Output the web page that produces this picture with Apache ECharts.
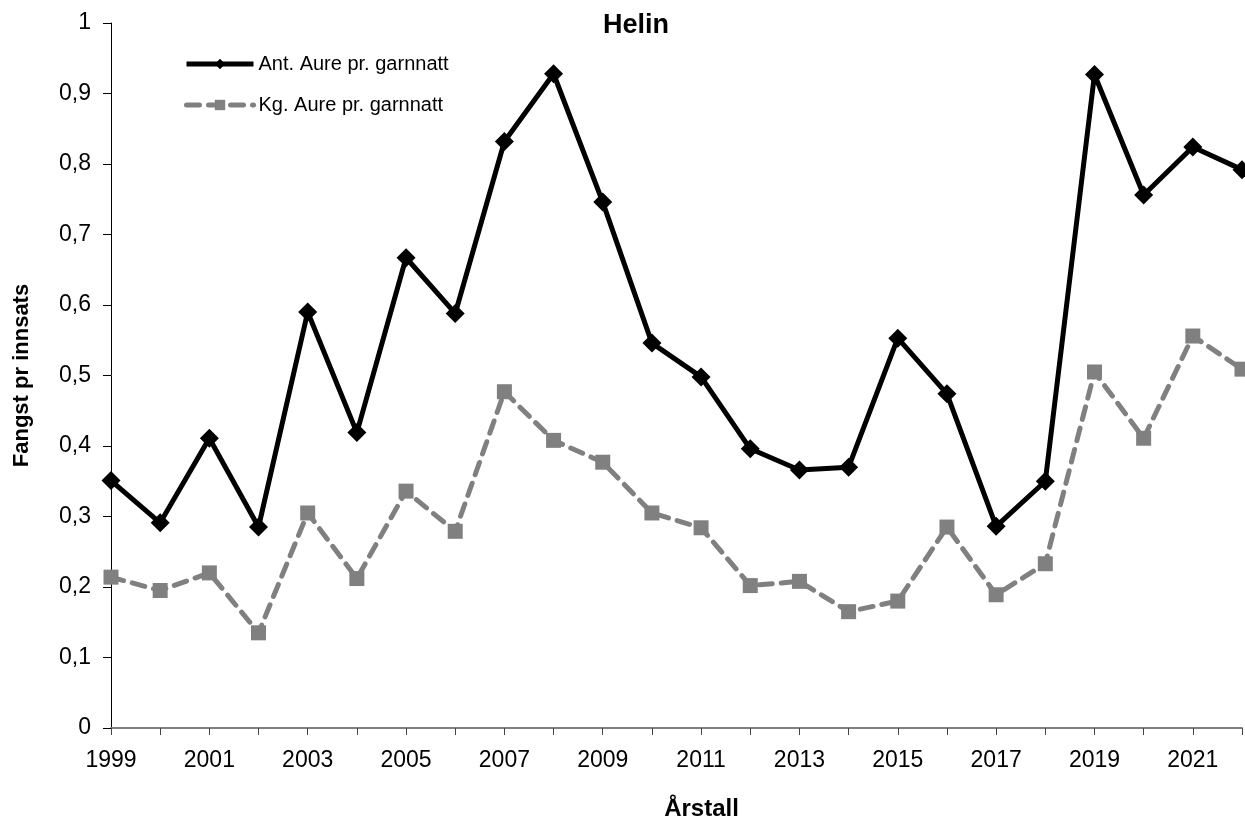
<!DOCTYPE html>
<html>
<head>
<meta charset="utf-8">
<script src="https://cdn.jsdelivr.net/npm/echarts@6/dist/echarts.min.js"></script>
<style>html,body{margin:0;padding:0;background:#fff}#c{width:1245px;height:826px}</style>
</head>
<body>
<div id="c"></div>
<script>
const years = ['1999','2000','2001','2002','2003','2004','2005','2006','2007','2008','2009','2010','2011','2012','2013','2014','2015','2016','2017','2018','2019','2020','2021','2022'];
const antAure = [0.351,0.291,0.411,0.285,0.590,0.419,0.667,0.588,0.832,0.928,0.746,0.546,0.498,0.396,0.366,0.370,0.553,0.474,0.286,0.350,0.927,0.756,0.824,0.792];
const kgAure  = [0.214,0.195,0.220,0.135,0.305,0.212,0.336,0.279,0.477,0.408,0.377,0.305,0.284,0.202,0.208,0.165,0.180,0.285,0.189,0.233,0.505,0.411,0.556,0.509];
const seriesNames = ['Ant. Aure pr. garnnatt','Kg. Aure pr. garnnatt'];

const chart = echarts.init(document.getElementById('c'));
const font = '"Liberation Sans", Arial, sans-serif';
chart.setOption({
  animation: false,
  textStyle: { fontFamily: font },
  title: {
    text: 'Helin', left: 631, top: 7, textAlign: 'center',
    textStyle: { fontSize: 27, fontWeight: 'bold', color: '#000', fontFamily: font }
  },
  legend: {
    orient: 'vertical', left: 179, top: 49, itemGap: 21,
    itemWidth: 67, itemHeight: 13,
    lineStyle: { width: 5 },
    textStyle: { fontSize: 20, color: '#000', fontFamily: font },
    data: seriesNames
  },
  grid: { left: 111, right: 3, top: 23, bottom: 92, containLabel: false },
  xAxis: {
    type: 'category', data: years, boundaryGap: false,
    name: 'Årstall', nameLocation: 'middle', nameGap: 69,
    nameTextStyle: { fontSize: 24, fontWeight: 'bold', color: '#000', fontFamily: font, padding: [0,0,0,50] },
    axisLine: { lineStyle: { color: '#808080', width: 2 } },
    axisTick: { show: true, interval: 0, length: 7, inside: false, lineStyle: { color: '#444', width: 1 } },
    axisLabel: { interval: 1, fontSize: 23, color: '#000', margin: 21, fontFamily: font },
    splitLine: { show: false }
  },
  yAxis: {
    type: 'value', min: 0, max: 1, interval: 0.1,
    name: 'Fangst pr innsats', nameLocation: 'middle', nameGap: 78, nameRotate: 90,
    nameTextStyle: { fontSize: 22, fontWeight: 'bold', color: '#000', fontFamily: font },
    axisLine: { show: true, lineStyle: { color: '#000', width: 1 } },
    axisTick: { show: true, length: 8, lineStyle: { color: '#000' } },
    axisLabel: { fontSize: 23, color: '#000', margin: 20, fontFamily: font,
      formatter: v => String(Math.round(v*10)/10).replace('.', ',') },
    splitLine: { show: false }
  },
  series: [
    {
      name: seriesNames[0], type: 'line', data: antAure,
      symbol: 'diamond', symbolSize: 19,
      lineStyle: { color: '#000', width: 5 },
      itemStyle: { color: '#000' },
      z: 3
    },
    {
      name: seriesNames[1], type: 'line', data: kgAure,
      symbol: 'rect', symbolSize: 15,
      lineStyle: { color: '#808080', width: 5, type: [13, 9], cap: 'round' },
      itemStyle: { color: '#808080' },
      z: 2
    }
  ]
});
</script>
</body>
</html>
